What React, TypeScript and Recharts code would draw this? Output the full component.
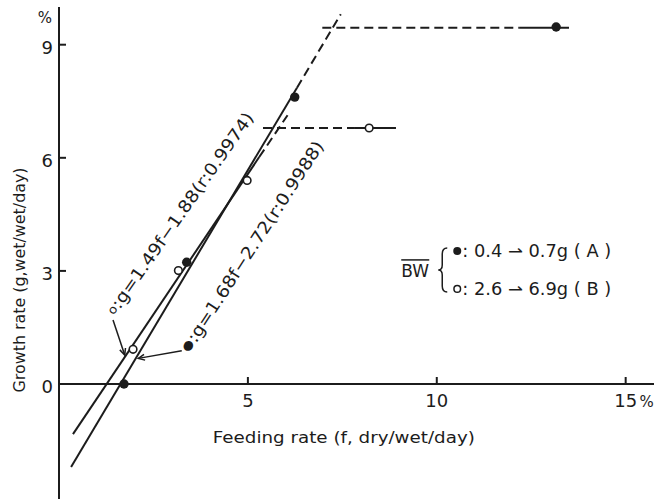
import { ComposedChart, Line, Scatter, XAxis, YAxis, ReferenceLine, ReferenceDot } from "recharts";

const INK = "#1c1c1c";
const FONT = "'DejaVu Sans', sans-serif";

const xTicks = [5, 10, 15];
const yTicks = [0, 3, 6, 9];

// A: filled, BW 0.4 -> 0.7 g
const groupA = [
  { f: 1.72, g: 0.0 },
  { f: 3.38, g: 3.23 },
  { f: 6.24, g: 7.61 },
  { f: 13.16, g: 9.47 },
];
// B: open, BW 2.6 -> 6.9 g
const groupB = [
  { f: 1.96, g: 0.92 },
  { f: 3.16, g: 3.01 },
  { f: 4.98, g: 5.4 },
  { f: 8.21, g: 6.79 },
];

// regression lines
const fitASolid = [{ f: 0.32, g: -2.2 }, { f: 6.3, g: 7.86 }];
const fitADashed = [{ f: 6.3, g: 7.86 }, { f: 7.46, g: 9.81 }];
const fitBSolid = [{ f: 0.37, g: -1.33 }, { f: 5.3, g: 6.02 }];
const fitBDashed = [{ f: 5.3, g: 6.02 }, { f: 6.05, g: 7.13 }];

// plateaus
const plateauADashed = [{ f: 6.97, g: 9.45 }, { f: 12.2, g: 9.45 }];
const plateauASolid = [{ f: 12.2, g: 9.45 }, { f: 13.5, g: 9.45 }];
const plateauBDashed = [{ f: 5.4, g: 6.79 }, { f: 7.81, g: 6.79 }];
const plateauBSolid = [{ f: 7.81, g: 6.79 }, { f: 8.92, g: 6.79 }];

// leader arrows from the equation labels
const leaderB = [{ f: 1.43, g: 1.7 }, { f: 1.74, g: 0.77 }];
const arrowB = [{ f: 1.76, g: 0.956 }, { f: 1.74, g: 0.77 }, { f: 1.61, g: 0.905 }];
const leaderA = [{ f: 3.25, g: 0.88 }, { f: 2.1, g: 0.68 }];
const arrowA = [{ f: 2.28, g: 0.634 }, { f: 2.1, g: 0.68 }, { f: 2.25, g: 0.788 }];

const eqB = ["o", ":g=1.49f−1.88(r:0.9974)"];
const eqA = ["●", ":g=1.68f−2.72(r:0.9988)"];
const legendA = ": 0.4 ⇀ 0.7g ( A )";
const legendB = ": 2.6 ⇀ 6.9g ( B )";

const YTick = (props: any) => {
  const { x, y, payload } = props;
  return (
    <g>
      {payload.value !== 0 && (
        <line x1={x + 6} x2={x + 13} y1={y} y2={y} stroke={INK} strokeWidth={2} />
      )}
      <text x={x} y={y + 9} textAnchor="end" fontSize={18} fill={INK} fontFamily={FONT}>
        {payload.value}
      </text>
      {payload.value === 9 && (
        <text x={x - 8} y={y - 22} textAnchor="middle" fontSize={15} fill={INK} fontFamily={FONT}>
          %
        </text>
      )}
    </g>
  );
};

const xTickLabel = (t: number) => (p: any) => {
  const { x, y } = p.viewBox;
  return (
    <g>
      <line x1={x} x2={x} y1={y} y2={y - 7} stroke={INK} strokeWidth={2} />
      <text x={x} y={y + 23} textAnchor="middle" fontSize={18} fill={INK} fontFamily={FONT}>
        {t}
      </text>
      {t === 15 && (
        <text x={x + 21} y={y + 23} textAnchor="middle" fontSize={15} fill={INK} fontFamily={FONT}>
          %
        </text>
      )}
    </g>
  );
};

const rotated = (parts: string[], angle: number, len: number) => (p: any) => {
  const { x, y } = p.viewBox;
  return (
    <text
      x={x}
      y={y}
      transform={`rotate(${angle} ${x} ${y})`}
      textAnchor="middle"
      dominantBaseline="central"
      fontSize={17}
      fill={INK}
      fontFamily={FONT}
      textLength={len}
      lengthAdjust="spacingAndGlyphs"
    >
      <tspan fontSize={12}>{parts[0]}</tspan>
      <tspan>{parts[1]}</tspan>
    </text>
  );
};

const legend = (p: any) => {
  const { x, y } = p.viewBox;
  return (
    <g transform={`translate(${x} ${y})`} fill={INK} fontFamily={FONT}>
      <text x={0} y={6} textAnchor="middle" fontSize={17}>BW</text>
      <line x1={-14} x2={14} y1={-11} y2={-11} stroke={INK} strokeWidth={1.5} />
      <path
        d="M32 -23 Q27 -23 27 -17 L27 -6 Q27 -1 23 -1 Q27 -1 27 4 L27 15 Q27 21 32 21"
        fill="none"
        stroke={INK}
        strokeWidth={1.5}
      />
      <circle cx={42} cy={-20} r={4} fill={INK} />
      <text x={47} y={-14} fontSize={17} textLength={149} lengthAdjust="spacingAndGlyphs">
        {legendA}
      </text>
      <circle cx={42} cy={18} r={3.3} fill="#fff" stroke={INK} strokeWidth={1.5} />
      <text x={47} y={24} fontSize={17} textLength={149} lengthAdjust="spacingAndGlyphs">
        {legendB}
      </text>
    </g>
  );
};

const yLabel = (p: any) => {
  const { x, y } = p.viewBox;
  const cx = x - 39;
  return (
    <text
      x={cx}
      y={y}
      transform={`rotate(-90 ${cx} ${y})`}
      textAnchor="middle"
      dominantBaseline="central"
      fontSize={16}
      fill={INK}
      fontFamily={FONT}
      textLength={225}
      lengthAdjust="spacingAndGlyphs"
    >
      Growth rate  (g,wet/wet/day)
    </text>
  );
};

const xLabel = (p: any) => {
  const { x, y } = p.viewBox;
  return (
    <text
      x={x}
      y={y}
      textAnchor="middle"
      dominantBaseline="central"
      fontSize={16}
      fill={INK}
      fontFamily={FONT}
      textLength={262}
      lengthAdjust="spacingAndGlyphs"
    >
      Feeding  rate (f, dry/wet/day)
    </text>
  );
};

const filledDot = (p: any) => <circle cx={p.cx} cy={p.cy} r={4.7} fill={INK} />;
const openDot = (p: any) => (
  <circle cx={p.cx} cy={p.cy} r={3.8} fill="#fff" stroke={INK} strokeWidth={1.6} />
);

const seg = (data: { f: number; g: number }[], dashed: boolean, w = 2) => (
  <Line
    data={data}
    dataKey="g"
    type="linear"
    stroke={INK}
    strokeWidth={w}
    strokeDasharray={dashed ? "9 5" : undefined}
    dot={false}
    activeDot={false}
    isAnimationActive={false}
    legendType="none"
  />
);

export default function App() {
  return (
    <div style={{ position: "absolute", left: 0, top: 0, width: 654, height: 499, background: "#fff" }}>
      <ComposedChart width={654} height={499} margin={{ top: 7, right: 0, bottom: 0, left: 0 }}>
        <XAxis dataKey="f" type="number" domain={[0, 15.75]} hide />
        <YAxis
          dataKey="g"
          type="number"
          domain={[-3.05, 10]}
          ticks={yTicks}
          width={59}
          tickSize={0}
          tickMargin={6}
          tickLine={false}
          axisLine={{ stroke: INK, strokeWidth: 2 }}
          tick={<YTick />}
          interval={0}
        />
        <ReferenceLine y={0} stroke={INK} strokeWidth={2} />
        {xTicks.map((t) => (
          <ReferenceDot key={t} x={t} y={0} r={0} fill="none" stroke="none" label={xTickLabel(t)} />
        ))}
        {seg(fitASolid, false)}
        {seg(fitADashed, true)}
        {seg(fitBSolid, false)}
        {seg(fitBDashed, true)}
        {seg(plateauADashed, true)}
        {seg(plateauASolid, false)}
        {seg(plateauBDashed, true)}
        {seg(plateauBSolid, false)}
        {seg(leaderB, false, 1.5)}
        {seg(arrowB, false, 1.5)}
        {seg(leaderA, false, 1.5)}
        {seg(arrowA, false, 1.5)}
        <Scatter data={groupA} dataKey="g" shape={filledDot} isAnimationActive={false} />
        <Scatter data={groupB} dataKey="g" shape={openDot} isAnimationActive={false} />
        <ReferenceDot x={3.2} y={4.52} r={0} fill="none" stroke="none" label={rotated(eqB, -55, 243)} />
        <ReferenceDot x={5.11} y={3.65} r={0} fill="none" stroke="none" label={rotated(eqA, -57, 248)} />
        <ReferenceDot x={9.43} y={3.0} r={0} fill="none" stroke="none" label={legend} />
        <ReferenceDot x={0} y={2.76} r={0} fill="none" stroke="none" label={yLabel} />
        <ReferenceDot x={7.54} y={-1.41} r={0} fill="none" stroke="none" label={xLabel} />
      </ComposedChart>
    </div>
  );
}
